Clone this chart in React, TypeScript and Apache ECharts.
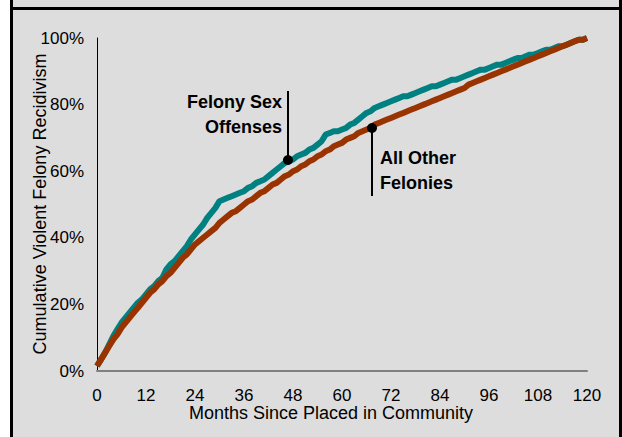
import React, { useEffect, useRef } from "react";
import * as echarts from "echarts";

const months: number[] = Array.from({ length: 121 }, (_, i) => i);
const xTicks = [0, 12, 24, 36, 48, 60, 72, 84, 96, 108, 120];

const felonySex = [
  1.5, 3.5, 5.5, 8, 10.5, 12.5, 14.5, 16, 17.5, 19, 20.5, 21.5, 23, 24.5, 25.5, 27, 28, 30.5, 32, 33,
  34.5, 36, 37.5, 39.5, 41, 42.5, 44, 46, 47.5, 49, 51, 51.5, 52, 52.5, 53, 53.5, 54, 55, 55.5, 56.5,
  57, 57.5, 58.5, 59.5, 60.5, 61.5, 62.5, 63, 63.5, 64.5, 65, 65.5, 66.5, 67, 68, 69, 71, 71.5, 72, 72,
  72.5, 73, 74, 74.5, 75.5, 76.5, 77.5, 78, 79, 79.5, 80, 80.5, 81, 81.5, 82, 82.5, 82.5, 83, 83.5, 84,
  84.5, 85, 85.5, 85.5, 86, 86.5, 87, 87.5, 87.5, 88, 88.5, 89, 89.5, 90, 90.5, 90.5, 91, 91.5, 92, 92,
  92.5, 93, 93.5, 94, 94, 94.5, 95, 95, 95.5, 96, 96.5, 96.5, 97, 97.5, 97.5, 98, 98.5, 99, 99.5, 99.5,
  100,
];

const allOther = [
  1.5, 3.5, 5.5, 7.5, 9.5, 11, 13, 14.5, 16, 17.5, 19, 20.5, 22, 23.5, 24.5, 26, 27, 28.5, 29.5, 31,
  32.5, 34, 35, 36.5, 38, 39, 40, 41, 42, 43, 44.5, 45.5, 46.5, 47.5, 48, 49, 50, 51, 51.5, 52.5,
  53.5, 54, 55, 56, 56.5, 57.5, 58.5, 59, 60, 60.5, 61.5, 62, 63, 63.5, 64.5, 65, 66, 66.5, 67.5, 68,
  68.5, 69.5, 70, 70.5, 71.5, 72, 72.5, 73, 74, 74.5, 75, 75.5, 76, 76.5, 77, 77.5, 78, 78.5, 79, 79.5,
  80, 80.5, 81, 81.5, 82, 82.5, 83, 83.5, 84, 84.5, 85, 86, 86.5, 87, 87.5, 88, 88.5, 89, 89.5, 90,
  90.5, 91, 91.5, 92, 92.5, 93, 93.5, 94, 94.5, 95, 95.5, 96, 96.5, 97, 97.5, 98, 98.5, 99, 99.5, 99.5,
  100,
];

const seriesNames = ["Felony Sex Offenses", "All Other Felonies"];
const xTitle = "Months Since Placed in Community";
const yTitle = "Cumulative Violent Felony Recidivism";

const FONT = "'Liberation Sans', Arial, sans-serif";

export default function App() {
  const ref = useRef<HTMLDivElement>(null);
  useEffect(() => {
    if (!ref.current) return;
    const chart = echarts.init(ref.current, undefined, { renderer: "svg" });
    chart.setOption({
      animation: false,
      backgroundColor: "#ffffff",
      textStyle: { fontFamily: FONT },
      grid: { left: 97, right: 35, top: 38, bottom: 66 },
      xAxis: {
        type: "value",
        min: 0,
        max: 120,
        interval: 12,
        axisLine: { show: true, lineStyle: { color: "#808080", width: 2 } },
        axisTick: { show: false },
        splitLine: { show: false },
        axisLabel: { color: "#000", fontSize: 17, lineHeight: 16, fontFamily: FONT, margin: 16 },
      },
      yAxis: {
        type: "value",
        min: 0,
        max: 100,
        interval: 20,
        axisLine: { show: true, lineStyle: { color: "#000", width: 1 } },
        axisTick: { show: false },
        splitLine: { show: false },
        axisLabel: { color: "#000", fontSize: 17, fontFamily: FONT, margin: 13, formatter: "{value}%" },
      },
      series: [
        {
          name: seriesNames[0],
          type: "line",
          data: months.map((m, i) => [m, felonySex[i]]),
          showSymbol: false,
          lineStyle: { color: "#008080", width: 6 },
          z: 2,
        },
        {
          name: seriesNames[1],
          type: "line",
          data: months.map((m, i) => [m, allOther[i]]),
          showSymbol: false,
          lineStyle: { color: "#993300", width: 6 },
          z: 3,
        },
      ],
      graphic: [
        { type: "rect", z: -10, shape: { x: 13, y: 0, width: 606, height: 437 }, style: { fill: "#dddddd" } },
        { type: "rect", z: -5, shape: { x: 10, y: 0, width: 3, height: 437 }, style: { fill: "#000" } },
        { type: "rect", z: -5, shape: { x: 619, y: 0, width: 3, height: 437 }, style: { fill: "#000" } },
        { type: "rect", z: -5, shape: { x: 10, y: 7, width: 612, height: 3 }, style: { fill: "#000" } },
        {
          type: "text",
          x: 40,
          y: 204,
          rotation: Math.PI / 2,
          style: { text: yTitle, fontSize: 18, fontFamily: FONT, fill: "#000", align: "center", verticalAlign: "middle" },
        },
        {
          type: "text",
          x: 331,
          y: 413,
          style: { text: xTitle, fontSize: 18, lineHeight: 16, fontFamily: FONT, fill: "#000", align: "center", verticalAlign: "middle" },
        },
        {
          type: "text",
          x: 282,
          y: 102,
          z: 20,
          style: { text: "Felony Sex", fontSize: 18, fontWeight: "bold", fontFamily: FONT, fill: "#000", align: "right", verticalAlign: "middle" },
        },
        {
          type: "text",
          x: 282,
          y: 127,
          z: 20,
          style: { text: "Offenses", fontSize: 18, fontWeight: "bold", fontFamily: FONT, fill: "#000", align: "right", verticalAlign: "middle" },
        },
        { type: "line", z: 20, shape: { x1: 288, y1: 91, x2: 288, y2: 160 }, style: { stroke: "#000", lineWidth: 2 } },
        { type: "circle", z: 20, shape: { cx: 288, cy: 160, r: 5 }, style: { fill: "#000" } },
        {
          type: "text",
          x: 380,
          y: 158,
          z: 20,
          style: { text: "All Other", fontSize: 18, fontWeight: "bold", fontFamily: FONT, fill: "#000", align: "left", verticalAlign: "middle" },
        },
        {
          type: "text",
          x: 380,
          y: 183,
          z: 20,
          style: { text: "Felonies", fontSize: 18, fontWeight: "bold", fontFamily: FONT, fill: "#000", align: "left", verticalAlign: "middle" },
        },
        { type: "line", z: 20, shape: { x1: 372, y1: 128, x2: 372, y2: 196 }, style: { stroke: "#000", lineWidth: 2 } },
        { type: "circle", z: 20, shape: { cx: 372, cy: 128, r: 5 }, style: { fill: "#000" } },
      ],
    });
    return () => chart.dispose();
  }, []);
  return (
    <div
      ref={ref}
      style={{ position: "fixed", left: 0, top: 0, width: 622, height: 437 }}
    />
  );
}
